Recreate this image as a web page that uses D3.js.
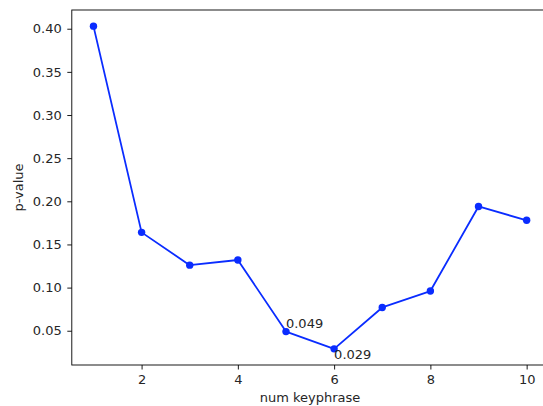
<!DOCTYPE html>
<html>
<head>
<meta charset="utf-8">
<script src="https://cdn.jsdelivr.net/npm/d3@7"></script>
<style>
  html, body { margin: 0; padding: 0; background: #fff; overflow: hidden; }
  svg { display: block; }
  text { font-family: "DejaVu Sans", sans-serif; fill: #262626; }
</style>
</head>
<body>
<script>
// Number of keyphrases and the p-value measured for each
const numKeyphrase = [1, 2, 3, 4, 5, 6, 7, 8, 9, 10];
const pValues = [0.403, 0.164, 0.126, 0.132, 0.049, 0.029, 0.077, 0.096, 0.194, 0.178];
const xTicks = [2, 4, 6, 8, 10];
const yTicks = [0.05, 0.10, 0.15, 0.20, 0.25, 0.30, 0.35, 0.40];
// Points that carry a value annotation, with vertical placement
const annotated = [
  { x: 5, y: 0.049, label: "0.049", place: "above" },
  { x: 6, y: 0.029, label: "0.029", place: "below" }
];

const W = 543, H = 406;
const plot = { left: 71.8, right: 548.3, top: 10, bottom: 365 };
const lineColor = "#0a2cff";

const svg = d3.select("body").append("svg").attr("width", W).attr("height", H);

// Axis limits padded by 5% of the data range on each side
const xMin = d3.min(numKeyphrase), xMax = d3.max(numKeyphrase);
const yMin = d3.min(pValues), yMax = d3.max(pValues);
const xPad = (xMax - xMin) * 0.05, yPad = (yMax - yMin) * 0.05;

const x = d3.scaleLinear().domain([xMin - xPad, xMax + xPad]).range([plot.left, plot.right]);
const y = d3.scaleLinear().domain([yMin - yPad, yMax + yPad]).range([plot.bottom, plot.top]);

const fontSize = 13;

// x axis
const xAxis = svg.append("g")
  .attr("transform", `translate(0,${plot.bottom})`)
  .call(d3.axisBottom(x).tickValues(xTicks).tickFormat(d3.format("d")).tickSize(4.5).tickPadding(5.3));
// y axis
const yAxis = svg.append("g")
  .attr("transform", `translate(${plot.left},0)`)
  .call(d3.axisLeft(y).tickValues(yTicks).tickFormat(d3.format(".2f")).tickSize(4.5).tickPadding(5.5));

[xAxis, yAxis].forEach(g => {
  g.select(".domain").remove();
  g.selectAll(".tick line").attr("stroke", "#000").attr("stroke-width", 0.9);
  g.selectAll(".tick text")
    .attr("font-family", "DejaVu Sans, sans-serif")
    .attr("font-size", fontSize)
    .attr("fill", "#262626");
});

// frame spines
svg.append("rect")
  .attr("x", plot.left).attr("y", plot.top)
  .attr("width", plot.right - plot.left).attr("height", plot.bottom - plot.top)
  .attr("fill", "none").attr("stroke", "#000").attr("stroke-width", 0.9);

const data = numKeyphrase.map((k, i) => ({ x: k, y: pValues[i] }));

// line
svg.append("path")
  .datum(data)
  .attr("fill", "none")
  .attr("stroke", lineColor)
  .attr("stroke-width", 1.8)
  .attr("stroke-linejoin", "round")
  .attr("d", d3.line().x(d => x(d.x)).y(d => y(d.y)));

// markers
svg.append("g").selectAll("circle")
  .data(data)
  .join("circle")
  .attr("cx", d => x(d.x))
  .attr("cy", d => y(d.y))
  .attr("r", 3.7)
  .attr("fill", lineColor);

// value annotations anchored at the point
svg.append("g").selectAll("text")
  .data(annotated)
  .join("text")
  .attr("x", d => x(d.x))
  .attr("y", d => d.place === "above" ? y(d.y) - 3.5 : y(d.y) + 10.5)
  .attr("font-size", fontSize)
  .attr("fill", "#262626")
  .text(d => d.label);

// axis titles
svg.append("text")
  .attr("x", (plot.left + plot.right) / 2)
  .attr("y", 402)
  .attr("text-anchor", "middle")
  .attr("font-size", fontSize)
  .text("num keyphrase");

svg.append("text")
  .attr("transform", `translate(23,${(plot.top + plot.bottom) / 2}) rotate(-90)`)
  .attr("text-anchor", "middle")
  .attr("font-size", fontSize)
  .text("p-value");
</script>
</body>
</html>
